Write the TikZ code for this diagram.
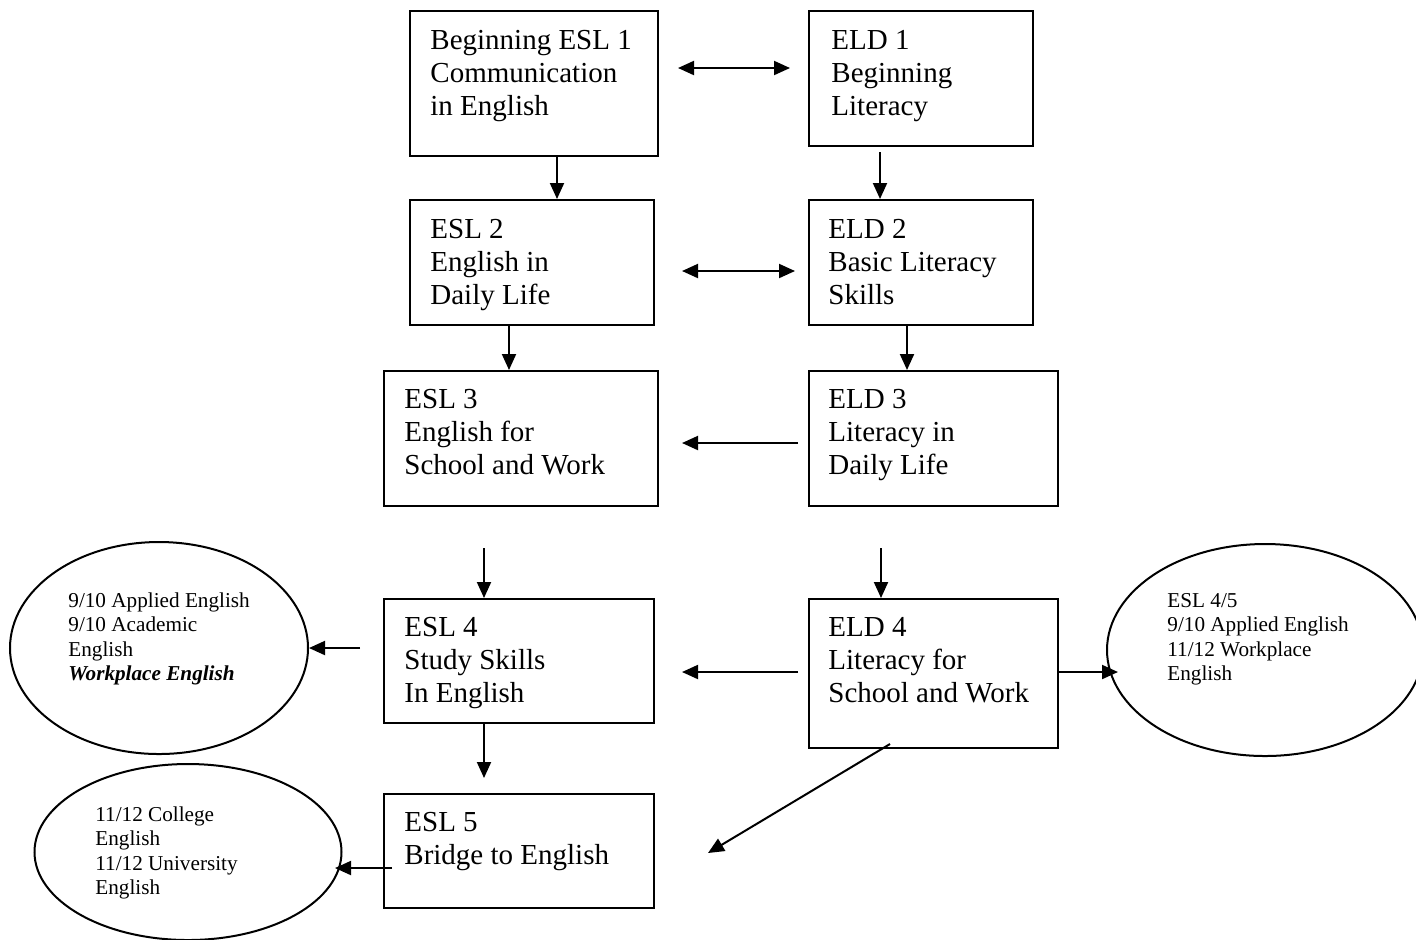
\documentclass[tikz,border=0pt]{standalone}
\usepackage{fontspec}
\setmainfont{Liberation Serif}
\usetikzlibrary{arrows.meta,shapes.geometric}
\begin{document}
\begin{tikzpicture}[x=0.5pt,y=-0.5pt,
 box/.style={draw,line width=1pt,rectangle,anchor=north west,inner sep=0pt},
 oval/.style={draw,line width=1pt,ellipse,inner sep=0pt},
 big/.style={anchor=base west,inner sep=0pt,align=left,font=\fontsize{14.5pt}{16.6pt}\selectfont},
 small/.style={anchor=base west,inner sep=0pt,align=left,font=\fontsize{10.6pt}{12.3pt}\selectfont},
 arr/.style={line width=1pt,-{Triangle[length=8pt,width=7pt]}},
 darr/.style={line width=1pt,{Triangle[length=8pt,width=7pt]}-{Triangle[length=8pt,width=7pt]}}]
\useasboundingbox (0,0) rectangle (1416,939);

% boxes
\node[box,minimum width=124pt,minimum height=72.5pt] (B1) at (409,10) {};
\node[box,minimum width=112pt,minimum height=67.5pt] (E1) at (808,10) {};
\node[box,minimum width=122pt,minimum height=62.5pt] (B2) at (409,199) {};
\node[box,minimum width=112pt,minimum height=62.5pt] (E2) at (808,199) {};
\node[box,minimum width=137pt,minimum height=67.5pt] (B3) at (383,370) {};
\node[box,minimum width=124.5pt,minimum height=67.5pt] (E3) at (808,370) {};
\node[box,minimum width=135pt,minimum height=62pt] (B4) at (383,598) {};
\node[box,minimum width=124.5pt,minimum height=74.5pt] (E4) at (808,598) {};
\node[box,minimum width=135pt,minimum height=57pt] (B5) at (383,793) {};

% box texts (anchored at the baseline of the last line)
\node[big] (tB1) at (430,115.4) {Beginning ESL 1\\Communication\\in English};
\node[big] (tE1) at (831,115.4) {ELD 1\\Beginning\\Literacy};
\node[big] (tB2) at (430,304.4) {ESL 2\\English in\\Daily Life};
\node[big] (tE2) at (828,304.4) {ELD 2\\Basic Literacy\\Skills};
\node[big] (tB3) at (404,474.4) {ESL 3\\English for\\School and Work};
\node[big] (tE3) at (828,474.4) {ELD 3\\Literacy in\\Daily Life};
\node[big] (tB4) at (404,702.4) {ESL 4\\Study Skills\\In English};
\node[big] (tE4) at (828,702.4) {ELD 4\\Literacy for\\School and Work};
\node[big] (tB5) at (404,864.2) {ESL 5\\Bridge to English};

% ellipses
\node[oval,minimum width=149pt,minimum height=106pt] (L1) at (159,648) {};
\node[oval,minimum width=158pt,minimum height=106pt] (R1) at (1265,650) {};
\node[oval,minimum width=153.5pt,minimum height=88pt] (L2) at (188,852) {};

\node[small] (tL1) at (68,680.8) {9/10 Applied English\\9/10 Academic\\English\\\textbf{\textit{Workplace English}}};
\node[small] (tR1) at (1167,680.8) {ESL 4/5\\9/10 Applied English\\11/12 Workplace\\English};
\node[small] (tL2) at (95,894.8) {11/12 College\\English\\11/12 University\\English};

% coordinates
\coordinate (x1) at (557,0);
\coordinate (x2) at (509,0);
\coordinate (x3) at (907,0);
\coordinate (x4) at (484,0);
\coordinate (h1l) at (678,68);
\coordinate (h1r) at (790,68);
\coordinate (h2l) at (682,271);
\coordinate (h2r) at (795,271);
\coordinate (e1s) at (880,152);
\coordinate (e3w) at (798,443);
\coordinate (b3e) at (682,443);
\coordinate (b3s) at (484,548);
\coordinate (e3s) at (881,548);
\coordinate (b4e) at (360,648);
\coordinate (e4w) at (798,672);
\coordinate (b4r) at (682,672);
\coordinate (r1w) at (1118,672);
\coordinate (b4s) at (484,778);
\coordinate (e4d) at (890,744);
\coordinate (e4t) at (708,853);
\coordinate (b5w) at (392,868);
\coordinate (l2e) at (335,868);

% connectors
\draw[darr] (h1l) -- (h1r);
\draw[arr] (x1 |- B1.south) -- (x1 |- B2.north);
\draw[arr] (e1s) -- (e1s |- E2.north);
\draw[darr] (h2l) -- (h2r);
\draw[arr] (x2 |- B2.south) -- (x2 |- B3.north);
\draw[arr] (x3 |- E2.south) -- (x3 |- E3.north);
\draw[arr] (e3w) -- (b3e);
\draw[arr] (b3s) -- (b3s |- B4.north);
\draw[arr] (e3s) -- (e3s |- E4.north);
\draw[arr] (b4e) -- (L1.east);
\draw[arr] (e4w) -- (b4r);
\draw[arr] (e4w -| E4.east) -- (r1w);
\draw[arr] (x4 |- B4.south) -- (b4s);
\draw[arr] (e4d) -- (e4t);
\draw[arr] (b5w) -- (l2e);
\end{tikzpicture}
\end{document}
